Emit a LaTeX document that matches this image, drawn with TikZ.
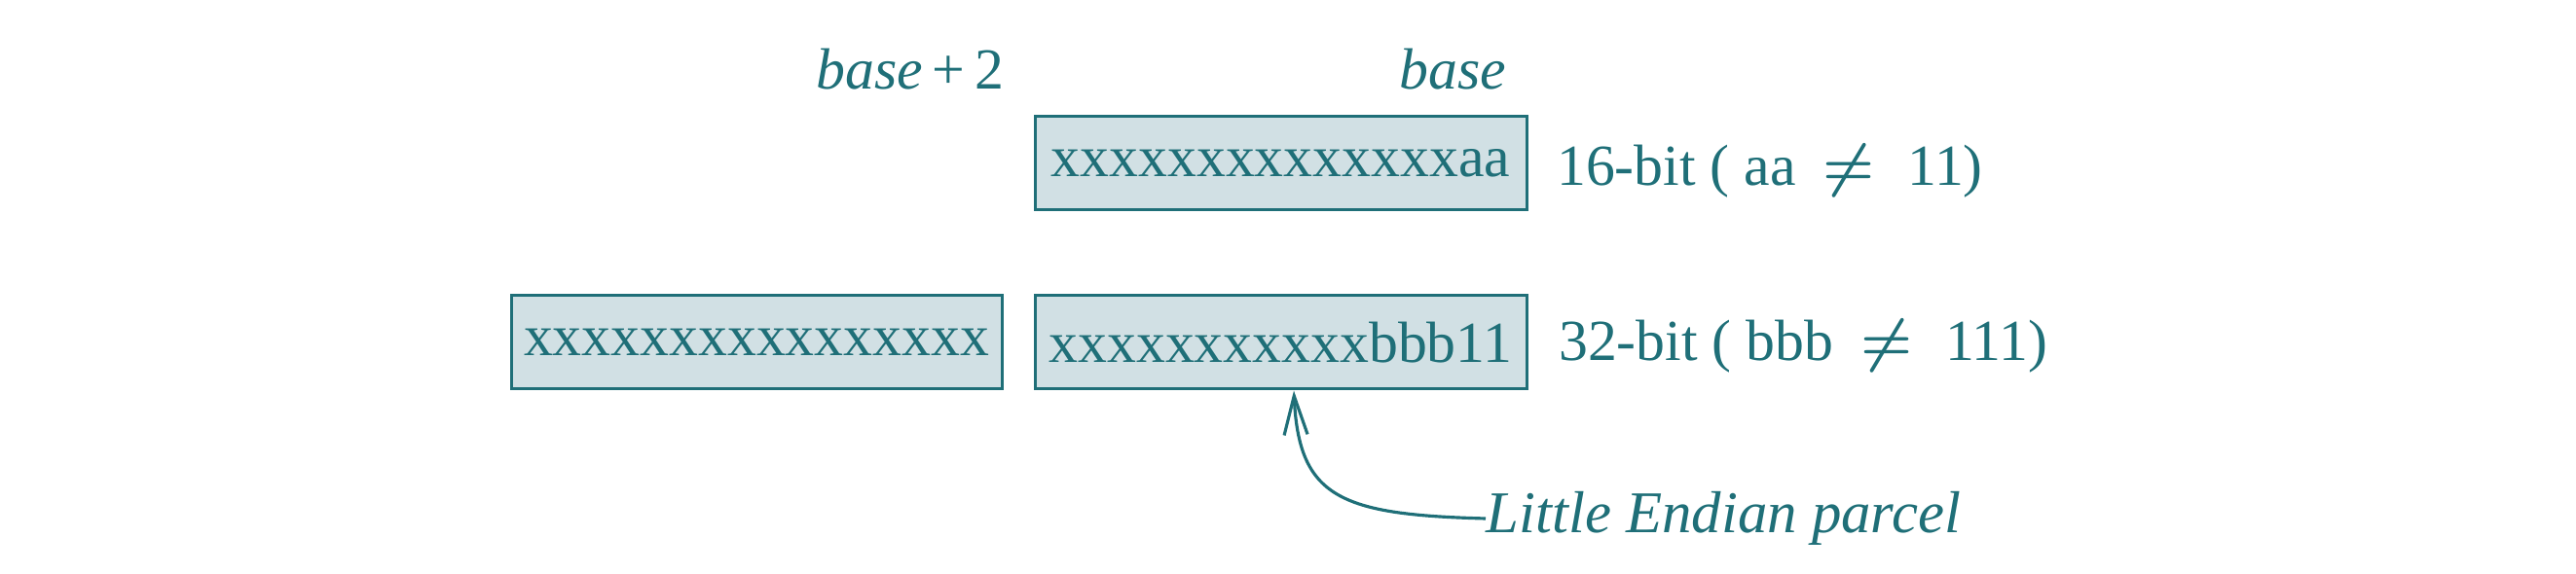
\documentclass[tikz,border=0pt]{standalone}
\usepackage{fontspec}
\setmainfont{Liberation Serif}
\usepackage{tikz}
\usetikzlibrary{arrows.meta,calc,positioning}
\definecolor{ink}{HTML}{1F6F78}
\definecolor{cell}{HTML}{D1E0E4}
\tikzset{
	word/.style={draw=ink, fill=cell, line width=0.85pt, minimum width=5.05cm, minimum height=0.96cm, inner sep=0pt},
	lbl/.style={text=ink, inner sep=0pt}
}
\newcommand{\nq}{\hspace{0.22em}$\boldsymbol{\neq}$\hspace{0.56em}}
\usepackage{amsmath}
\begin{document}
\begin{tikzpicture}[scale=1, every node/.style={font=\fontsize{17}{20}\selectfont, text=ink}]
		\useasboundingbox (0,0) rectangle (26.46,-5.90);

		\node[word] (w16) at (13.155,-1.68) {xxxxxxxxxxxxxxaa};
		\node[lbl, right=0.29cm of w16, yshift=-0.08cm] (l16) {16-bit ( aa \nq 11)};

		\node[word, below=0.85cm of w16] (lo) {xxxxxxxxxxxbbb11};
		\node[word, minimum width=5.04cm, left=0.31cm of lo] (hi) {xxxxxxxxxxxxxxxx};
		\node[lbl, right=0.31cm of lo, yshift=-0.04cm] (l32) {32-bit ( bbb \nq 111)};

		\node[lbl, anchor=base east] (bhi) at (10.32,-0.92) {\textit{base}\,+\,2};
		\node[lbl, anchor=base east] (blo) at (15.48,-0.92) {\textit{base}};

		\node[lbl, anchor=west, font=\fontsize{17.3}{20}\selectfont] (parcel) at (15.26,-5.33) {\textit{Little Endian parcel}};
		\draw[ink, line width=0.9pt, -{Straight Barb[length=4mm,width=2.4mm]}] (parcel.west) .. controls +(-1.5,0.04) and +(0.05,-1.1) .. ([xshift=0.135cm]lo.south);

	\end{tikzpicture}
\end{document}
